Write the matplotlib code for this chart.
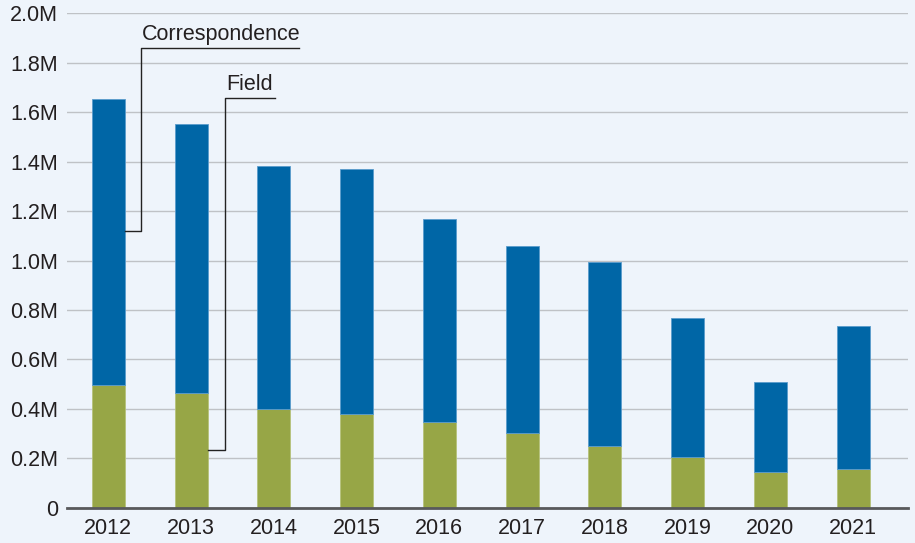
import matplotlib
matplotlib.use("Agg")
import matplotlib.pyplot as plt
import numpy as np

years = ["2012", "2013", "2014", "2015", "2016", "2017", "2018", "2019", "2020", "2021"]
field = [0.497, 0.465, 0.400, 0.380, 0.347, 0.303, 0.249, 0.206, 0.144, 0.158]
total = [1.653, 1.553, 1.383, 1.370, 1.168, 1.059, 0.994, 0.766, 0.510, 0.737]
correspondence = [t - f for t, f in zip(total, field)]
yticks = [0, 0.2, 0.4, 0.6, 0.8, 1.0, 1.2, 1.4, 1.6, 1.8, 2.0]
ytick_labels = ["0", "0.2M", "0.4M", "0.6M", "0.8M", "1.0M", "1.2M", "1.4M", "1.6M", "1.8M", "2.0M"]

plt.rcParams['font.family'] = ['Liberation Sans', 'DejaVu Sans']

bg = "#EEF4FB"
blue = "#0066A6"
green = "#97A646"
tc = "#231f20"

fig = plt.figure(figsize=(9.15, 5.43), dpi=100, facecolor=bg)
ax = fig.add_axes([0.0732, 0.0645, 0.9188, 0.9115])
ax.set_facecolor(bg)

x = np.arange(len(years))
w = 0.4
ax.bar(x, field, width=w, color=green, edgecolor="#b5c27a", linewidth=0.6, zorder=3)
ax.bar(x, correspondence, width=w, bottom=field, color=blue, edgecolor="#5a9ccc", linewidth=0.6, zorder=3)

ax.set_xlim(-0.5, 9.66)
ax.set_ylim(0, 2.0)
ax.set_yticks(yticks)
ax.set_yticklabels(ytick_labels)
ax.set_xticks(x)
ax.set_xticklabels(years)
ax.grid(axis="y", color="#bfc2c6", linewidth=1.0, zorder=0)
ax.set_axisbelow(True)
for s in ["left", "right", "top"]:
    ax.spines[s].set_visible(False)
ax.spines["bottom"].set_color("#58595b")
ax.spines["bottom"].set_linewidth(2.0)
ax.spines["bottom"].set_zorder(4)
ax.tick_params(axis="both", length=0, labelsize=15.5, colors=tc)
ax.tick_params(axis="y", pad=6.5)
ax.tick_params(axis="x", pad=7)

# Annotations
lc = "#222222"
ax.plot([0.2, 0.4, 0.4, 2.30], [1.119, 1.119, 1.859, 1.859], color=lc, lw=1.0, zorder=5, clip_on=False)
ax.text(0.41, 1.872, "Correspondence", fontsize=15.5, color=tc, ha="left", va="bottom")
ax.plot([1.2, 1.415, 1.415, 2.01], [0.234, 0.234, 1.657, 1.657], color=lc, lw=1.0, zorder=5, clip_on=False)
ax.text(1.425, 1.670, "Field", fontsize=15.5, color=tc, ha="left", va="bottom")

fig.savefig("out.png", dpi=100, facecolor=bg)
